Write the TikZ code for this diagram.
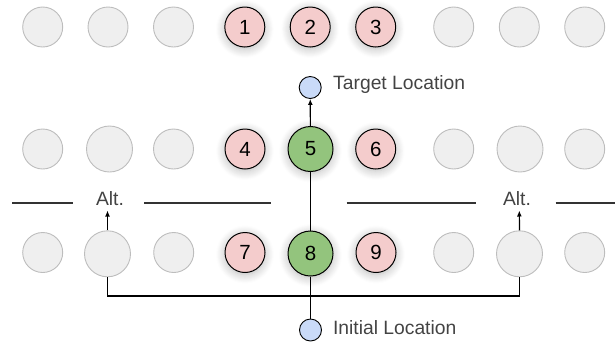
\documentclass[tikz,border=0pt]{standalone}
\usepackage{fontspec}
\setmainfont{Liberation Sans}
\usetikzlibrary{arrows.meta,shadows.blur}
\definecolor{grayfill}{HTML}{EFEFEF}
\definecolor{grayline}{HTML}{BDBDBD}
\definecolor{redfill}{HTML}{F4CCCC}
\definecolor{greenfill}{HTML}{93C47D}
\definecolor{bluefill}{HTML}{C9DAF8}
\definecolor{labeltext}{HTML}{434343}
\definecolor{linecol}{HTML}{333333}
\tikzset{
  gcell/.style={circle,draw=grayline,fill=grayfill,line width=0.9pt,minimum size=40pt,inner sep=0pt},
  gbig/.style={gcell,minimum size=46pt},
  shade/.style={blur shadow={shadow xshift=0pt,shadow yshift=-2pt,shadow blur radius=9pt,shadow opacity=28,shadow blur steps=10}},
  rcell/.style={circle,draw=black,fill=redfill,line width=1pt,minimum size=40pt,inner sep=0pt,shade,font=\fontsize{20.5}{21}\selectfont},
  gocell/.style={circle,draw=black,fill=greenfill,line width=1pt,minimum size=45pt,inner sep=0pt,shade,font=\fontsize{20.5}{21}\selectfont},
  loc/.style={circle,draw=black,fill=bluefill,line width=0.9pt,minimum size=22pt,inner sep=0pt},
  lbl/.style={text=labeltext,font=\fontsize{19.3}{20}\selectfont,inner sep=0pt},
  conn/.style={draw=black,line width=1.2pt},
  arr/.style={conn,-{Latex[length=6pt,width=5pt]}},
  sep/.style={draw=linecol,line width=1.2pt}
}
\begin{document}
\begin{tikzpicture}[x=1pt,y=-1pt]
\useasboundingbox (0,0) rectangle (615,341);
% row 1
\node[gcell] (r1a) at (42.7,27) {};
\node[gcell] (r1b) at (108,27) {};
\node[gcell] (r1c) at (173.5,27) {};
\node[rcell] (n1) at (244.8,27) {1};
\node[rcell] (n2) at (310.2,27) {2};
\node[rcell] (n3) at (375.7,27) {3};
\node[gcell] (r1g) at (453.7,27) {};
\node[gcell] (r1h) at (519.3,27) {};
\node[gcell] (r1i) at (584.7,27) {};
% row 2
\node[gcell] (r2a) at (42.7,149) {};
\node[gbig] (r2b) at (109.5,149) {};
\node[gcell] (r2c) at (173.5,149) {};
\node[rcell] (n4) at (245,149) {4};
\node[gocell] (n5) at (310.5,149) {5};
\node[rcell] (n6) at (375.7,149) {6};
\node[gcell] (r2g) at (453.7,149) {};
\node[gbig] (r2h) at (520,149) {};
\node[gcell] (r2i) at (584.7,149) {};
% row 3
\node[gcell] (r3a) at (42.7,252.5) {};
\node[gbig] (aL) at (107.5,253.8) {};
\node[gcell] (r3c) at (173.7,252.5) {};
\node[rcell] (n7) at (245,252.5) {7};
\node[gocell] (n8) at (310.5,253.5) {8};
\node[rcell] (n9) at (376,252.5) {9};
\node[gcell] (r3g) at (453.7,252.5) {};
\node[gbig] (aR) at (519.5,253.8) {};
\node[gcell] (r3i) at (584.7,252.5) {};
% locations
\node[loc] (target) at (310.2,87.5) {};
\node[loc] (init) at (310.5,330) {};
\node[lbl,anchor=base west] (tlab) at (333,89.3) {Target Location};
\node[lbl,anchor=base west] (ilab) at (332.8,334) {Initial Location};
% alt labels and separators
\node[lbl,anchor=base] (altLt) at (110,205) {Alt.};
\node[lbl,anchor=base] (altRt) at (517,205) {Alt.};
\draw[sep] (12,203) -- (73.3,203);
\draw[sep] (144,203) -- (270.5,203);
\draw[sep] (346.7,203) -- (475.7,203);
\draw[sep] (555.7,203) -- (615,203);
% connectors
\coordinate (altL) at (107.5,210.5);
\coordinate (altR) at (519.3,210.5);
\coordinate (bus) at (310.5,296);
\draw[arr] (n5) -- (target);
\draw[conn] (n8) -- (n5);
\draw[conn] (n8) -- (init);
\draw[conn] (aL.south) -- (aL.south |- bus) -- (aR.south |- bus) -- (aR.south);
\draw[arr] (aL.north) -- (altL);
\draw[arr] (aR.north) -- (altR);
\end{tikzpicture}
\end{document}
